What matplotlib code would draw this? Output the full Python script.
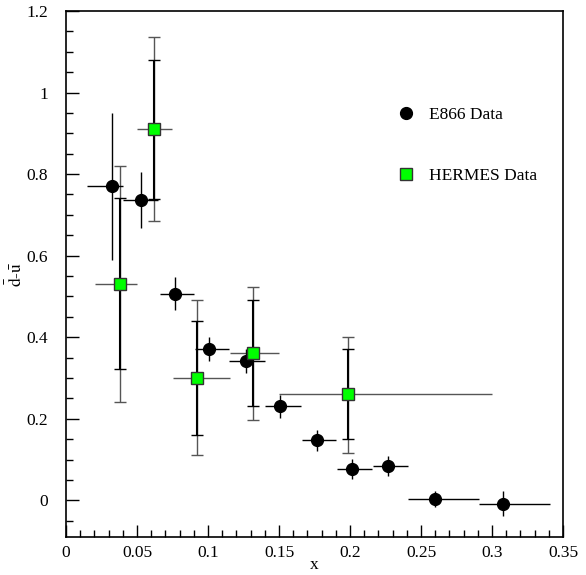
import numpy as np
import matplotlib.pyplot as plt
from matplotlib.lines import Line2D
from matplotlib.ticker import MultipleLocator

plt.rcParams['font.family'] = ['Liberation Serif', 'DejaVu Serif']
plt.rcParams['mathtext.fontset'] = 'stix'

# E866 points: x, value, bin edges, y error
e866_x = [0.0325, 0.053, 0.0765, 0.101, 0.1266, 0.151, 0.1768, 0.2016, 0.2268, 0.260, 0.308]
e866_y = [0.770, 0.736, 0.507, 0.371, 0.341, 0.231, 0.147, 0.076, 0.084, 0.004, -0.008]
e866_xlo = [0.015, 0.040, 0.066, 0.0905, 0.115, 0.140, 0.166, 0.191, 0.216, 0.241, 0.291]
e866_xhi = [0.040, 0.065, 0.090, 0.115, 0.140, 0.1655, 0.190, 0.2157, 0.241, 0.291, 0.341]
e866_yerr = [0.18, 0.069, 0.04, 0.03, 0.03, 0.028, 0.025, 0.025, 0.025, 0.02, 0.03]

# HERMES points: stat (inner) and total (outer) errors
herm_x = [0.038, 0.0622, 0.0924, 0.1318, 0.1985]
herm_y = [0.531, 0.911, 0.299, 0.361, 0.261]
herm_xlo = [0.0205, 0.050, 0.0755, 0.1155, 0.150]
herm_xhi = [0.050, 0.075, 0.1155, 0.150, 0.300]
herm_in_hi = [0.741, 1.080, 0.440, 0.491, 0.370]
herm_in_lo = [0.321, 0.739, 0.160, 0.231, 0.150]
herm_out_hi = [0.820, 1.137, 0.491, 0.523, 0.401]
herm_out_lo = [0.240, 0.685, 0.110, 0.196, 0.117]

fig = plt.figure(figsize=(5.86, 5.75), dpi=100)
ax = fig.add_axes([0.1126, 0.0661, 0.8482, 0.9148])

ex = np.array(e866_x)
ey = np.array(e866_y)
ax.errorbar(ex, ey,
            xerr=[ex - np.array(e866_xlo), np.array(e866_xhi) - ex],
            yerr=e866_yerr, fmt='o', color='black', ms=8.5, elinewidth=1.0,
            capsize=0, zorder=3)

hx = np.array(herm_x)
hy = np.array(herm_y)
# horizontal bins
ax.errorbar(hx, hy, xerr=[hx - np.array(herm_xlo), np.array(herm_xhi) - hx],
            fmt='none', ecolor='#555555', elinewidth=1.0, capsize=0, zorder=2)
# outer (total) errors
ax.errorbar(hx, hy, yerr=[hy - np.array(herm_out_lo), np.array(herm_out_hi) - hy],
            fmt='none', ecolor='#555555', elinewidth=1.0, capsize=4.5,
            capthick=1.0, zorder=2)
# inner (stat) errors
ax.errorbar(hx, hy, yerr=[hy - np.array(herm_in_lo), np.array(herm_in_hi) - hy],
            fmt='none', ecolor='black', elinewidth=1.5, capsize=4.5,
            capthick=1.0, zorder=4)
ax.plot(hx, hy, 's', color='#00ff00', mec='#333333', mew=1.0, ms=8.5, zorder=5)

ax.set_xlim(0, 0.35)
ax.set_ylim(-0.09, 1.2)
ax.xaxis.set_minor_locator(MultipleLocator(0.01))
ax.yaxis.set_minor_locator(MultipleLocator(0.05))
ax.set_xticks(np.arange(0, 0.351, 0.05))
ax.set_xticklabels(['0', '0.05', '0.1', '0.15', '0.2', '0.25', '0.3', '0.35'])
ax.set_yticks(np.arange(0, 1.21, 0.2))
ax.set_yticklabels(['0', '0.2', '0.4', '0.6', '0.8', '1', '1.2'])
ax.tick_params(which='both', direction='in', top=False, right=False,
               labelsize=12.5, width=1.0)
ax.tick_params(axis='y', which='major', pad=13)
ax.tick_params(axis='x', which='major', pad=6)
ax.tick_params(which='major', length=9)
ax.tick_params(which='minor', length=5)
for s in ax.spines.values():
    s.set_linewidth(1.2)

ax.set_xlabel('x', fontsize=12.5, labelpad=-3)
ax.set_ylabel(r'$\mathrm{\bar{d}}$-$\mathrm{\bar{u}}$', fontsize=12.5, labelpad=0)

handles = [
    Line2D([], [], marker='o', ls='none', color='black', ms=8.5),
    Line2D([], [], marker='s', ls='none', color='#00ff00', mec='#333333', mew=1.0, ms=8.5),
]
ax.legend(handles, ['E866 Data', 'HERMES Data'], loc='upper left',
          bbox_to_anchor=(0.632, 0.848), frameon=False, fontsize=12.5,
          handlelength=1.2, handletextpad=0.7, labelspacing=2.6)

fig.savefig('out.png', dpi=100)
